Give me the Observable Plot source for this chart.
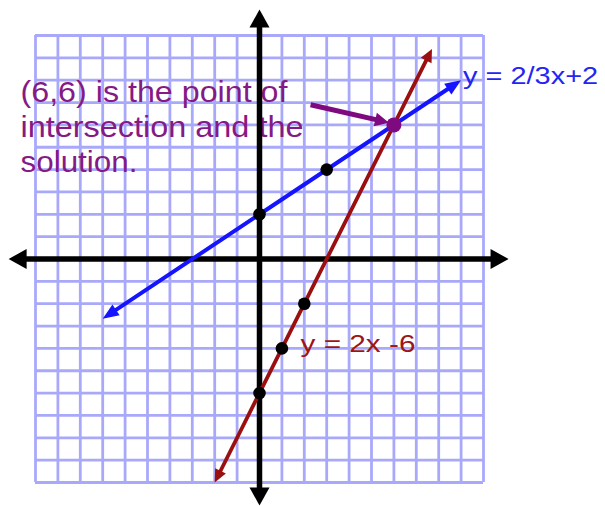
<!DOCTYPE html>
<html><head><meta charset="utf-8">
<script src="https://cdn.jsdelivr.net/npm/d3@7"></script>
<script src="https://cdn.jsdelivr.net/npm/@observablehq/plot@0.6"></script>
<style>
html,body{margin:0;padding:0;background:#fff;}
#chart svg{display:block;}
</style>
</head><body>
<div id="chart"></div>
<script>
// ---- data ----
const gridTicks = [-10,-9,-8,-7,-6,-5,-4,-3,-2,-1,0,1,2,3,4,5,6,7,8,9,10];
const xAxisTips = [-11.2, 11.12];   // arrow tips of the x-axis (data units)
const yAxisTips = [-11.03, 11.16];  // arrow tips of the y-axis
const blueLine = [{x: -7, y: -2.67}, {x: 9, y: 8}];      // y = 2/3x + 2
const redLine  = [{x: -2, y: -10}, {x: 7.7, y: 9.4}];    // y = 2x - 6
const bluePoints = [{x: 0, y: 2}, {x: 3, y: 4}];
const redPoints  = [{x: 0, y: -6}, {x: 1, y: -4}, {x: 2, y: -2}];
const solution = [{x: 6, y: 6}];
const noteLines = ["(6,6) is the point of", "intersection and the", "solution."];
const noteBaselines = [7.02, 5.45, 3.88];
const noteX = -10.67;
const noteArrow = [{x1: 2.28, y1: 6.9, x2: 5.78, y2: 6.1}];
const lineLabels = [
  {text: "y = 2/3x+2", x: 9.09, y: 7.84, color: "blue"},
  {text: "y = 2x -6",  x: 1.83, y: -4.17, color: "red"}
];

// ---- styling (kept out of data) ----
const COLORS = {grid: "#a9a9fc", blue: "#1414ff", red: "#9a0f0f", purple: "#7f0a7f", purpleText: "#861a84", blueText: "#2424f4", redText: "#a01414"};
const TEXT_WIDTHS = {
  "(6,6) is the point of": 267, "intersection and the": 283, "solution.": 117,
  "y = 2/3x+2": 135, "y = 2x -6": 115
};

// ---- helpers ----
const deg = (dx, dy) => Math.atan2(dx, dy) * 180 / Math.PI;
const tri = {draw(ctx, l, r) { ctx.moveTo(0, -l); ctx.lineTo(r, 0); ctx.lineTo(-r, 0); ctx.closePath(); }};
function shorten(p, q, d) { // move q back toward p by d data units
  const dx = q.x - p.x, dy = q.y - p.y, L = Math.hypot(dx, dy);
  return {x: q.x - dx / L * d, y: q.y - dy / L * d};
}
function lineHeads(pts) {
  const [a, b] = pts;
  return [
    {x: a.x, y: a.y, rotate: deg(a.x - b.x, a.y - b.y)},
    {x: b.x, y: b.y, rotate: deg(b.x - a.x, b.y - a.y)}
  ];
}
function trimmed(pts, d) { return [shorten(pts[1], pts[0], d), shorten(pts[0], pts[1], d)]; }

const axisHeads = [
  {x: xAxisTips[0], y: 0, rotate: 270}, {x: xAxisTips[1], y: 0, rotate: 90},
  {x: 0, y: yAxisTips[0], rotate: 180}, {x: 0, y: yAxisTips[1], rotate: 0}
];
const a = noteArrow[0];
const arrowStart = {x: a.x1, y: a.y1}, arrowEnd = {x: a.x2, y: a.y2};
const arrowShaft = [arrowStart, shorten(arrowStart, arrowEnd, 0.4)];
const arrowHead = [{x: a.x2, y: a.y2, rotate: deg(a.x2 - a.x1, a.y2 - a.y1)}];
const noteRows = noteLines.map((t, i) => ({text: t, x: noteX, y: noteBaselines[i]}));

const plot = Plot.plot({
  width: 605, height: 506,
  margin: 0,
  x: {domain: [-10, 10], range: [35, 483], axis: null},
  y: {domain: [-10, 10], range: [482, 35], axis: null},
  style: {background: "white", overflow: "visible", fontFamily: "'Liberation Sans', Arial, sans-serif"},
  marks: [
    // grid
    Plot.ruleX(gridTicks, {x: d => d, y1: -10, y2: 10, stroke: COLORS.grid, strokeWidth: 2.8}),
    Plot.ruleY(gridTicks, {y: d => d, x1: -10, x2: 10, stroke: COLORS.grid, strokeWidth: 2.8}),
    // note text
    Plot.text(noteRows, {x: "x", y: "y", text: "text", textAnchor: "start", lineAnchor: "bottom", fontSize: 30, fill: COLORS.purpleText}),
    // axes
    Plot.ruleY([0], {x1: xAxisTips[0] + 0.5, x2: xAxisTips[1] - 0.5, stroke: "black", strokeWidth: 5.5}),
    Plot.ruleX([0], {y1: yAxisTips[0] + 0.5, y2: yAxisTips[1] - 0.5, stroke: "black", strokeWidth: 5.5}),
    Plot.vector(axisHeads, {x: "x", y: "y", rotate: "rotate", length: 18, r: 10, anchor: "end", shape: tri, fill: "black", stroke: "none"}),
    // lines
    Plot.line(trimmed(blueLine, 0.35), {x: "x", y: "y", stroke: COLORS.blue, strokeWidth: 4}),
    Plot.vector(lineHeads(blueLine), {x: "x", y: "y", rotate: "rotate", length: 16, r: 6.5, anchor: "end", shape: tri, fill: COLORS.blue, stroke: "none"}),
    Plot.line(trimmed(redLine, 0.3), {x: "x", y: "y", stroke: COLORS.red, strokeWidth: 3.8}),
    Plot.vector(lineHeads(redLine), {x: "x", y: "y", rotate: "rotate", length: 13, r: 6, anchor: "end", shape: tri, fill: COLORS.red, stroke: "none"}),
    // points
    Plot.dot(bluePoints.concat(redPoints), {x: "x", y: "y", r: 6.3, fill: "black", stroke: "none"}),
    Plot.dot(solution, {x: "x", y: "y", r: 7.5, fill: COLORS.purple, stroke: "none"}),
    // annotation arrow
    Plot.line(arrowShaft, {x: "x", y: "y", stroke: COLORS.purple, strokeWidth: 5, strokeLinecap: "butt"}),
    Plot.vector(arrowHead, {x: "x", y: "y", rotate: "rotate", length: 14, r: 7, anchor: "end", shape: tri, fill: COLORS.purple, stroke: "none"}),
    // line labels
    Plot.text(lineLabels, {x: "x", y: "y", text: "text", textAnchor: "start", lineAnchor: "bottom", fontSize: 23,
      fill: d => d.color === "blue" ? COLORS.blueText : COLORS.redText})
  ]
});

plot.querySelectorAll("text").forEach(t => {
  const w = TEXT_WIDTHS[t.textContent];
  if (w) { t.setAttribute("textLength", w); t.setAttribute("lengthAdjust", "spacingAndGlyphs"); }
});
document.getElementById("chart").appendChild(plot);
</script>
</body></html>
